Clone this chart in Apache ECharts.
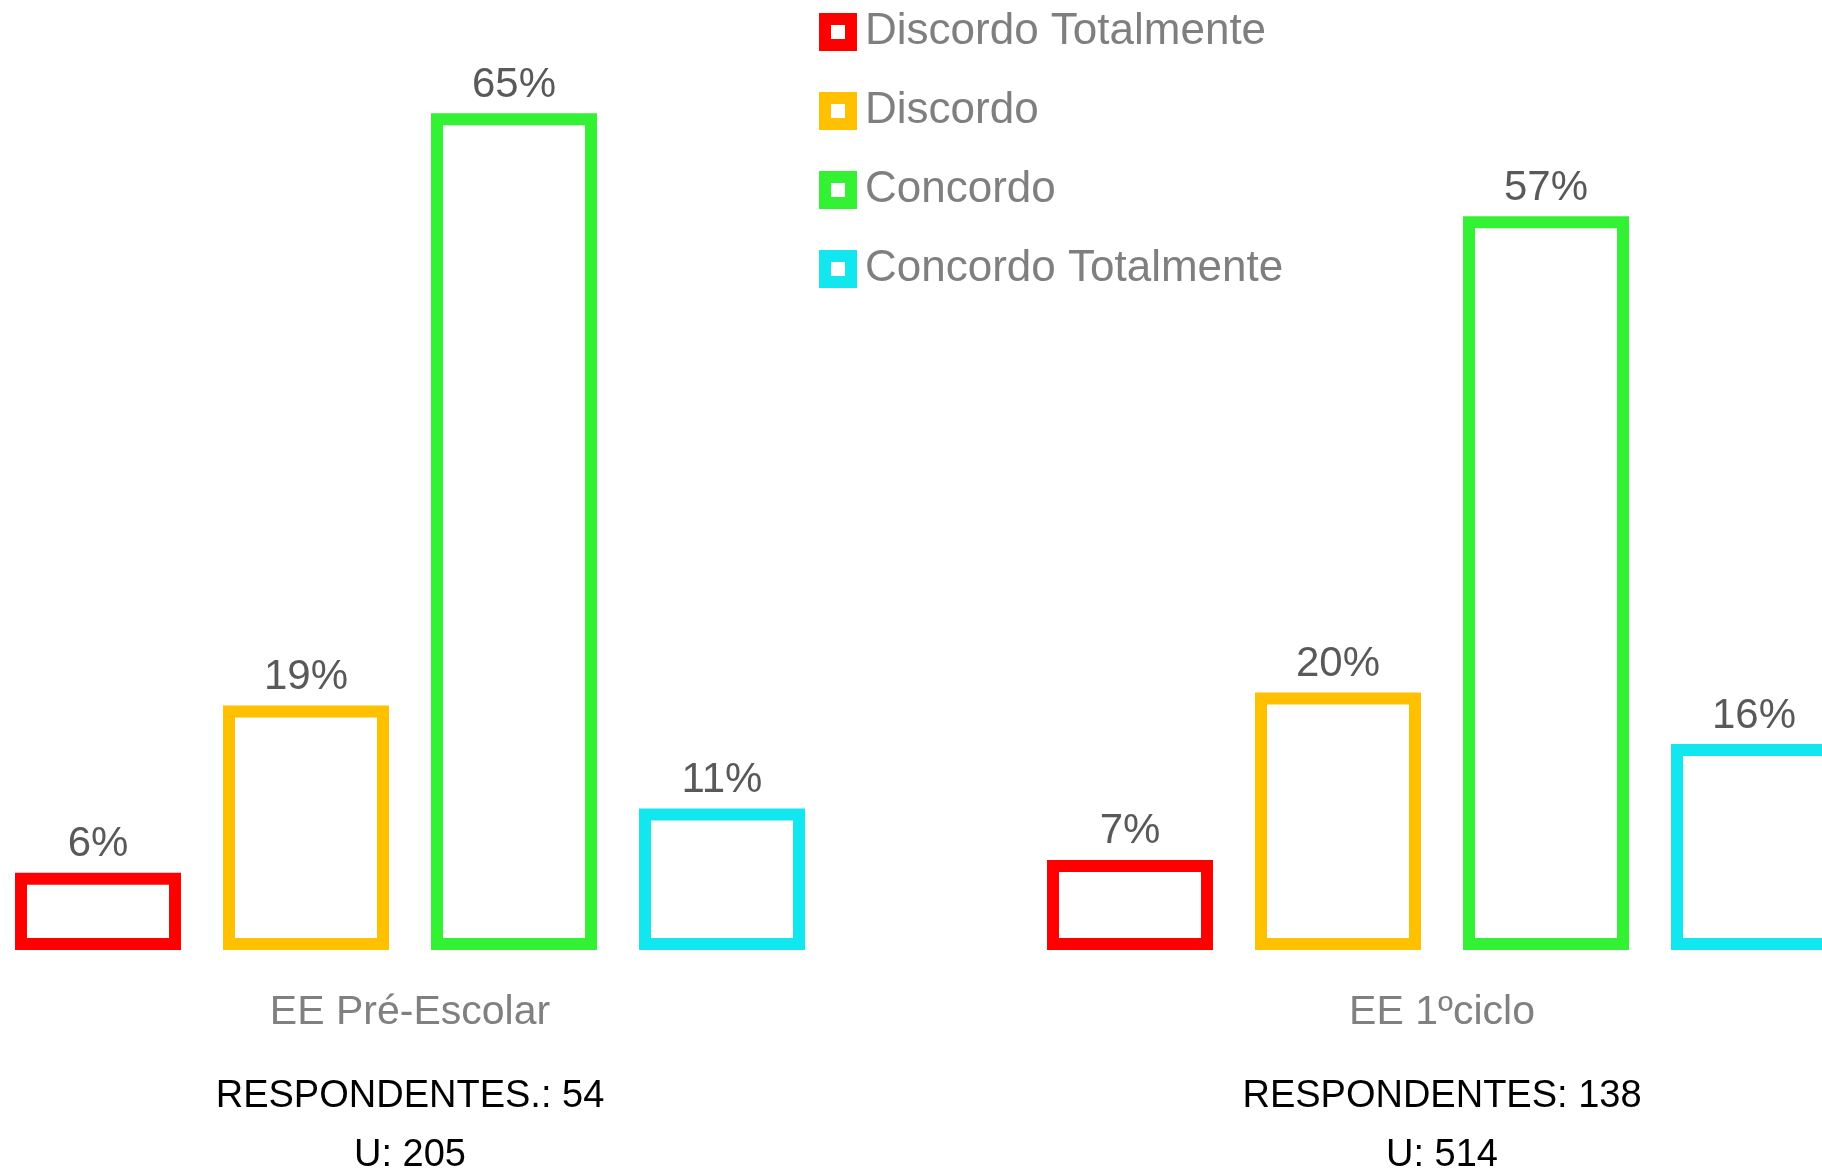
<!DOCTYPE html>
<html>
<head>
<meta charset="utf-8">
<script src="https://cdn.jsdelivr.net/npm/echarts@6/dist/echarts.min.js"></script>
<style>
html, body { margin: 0; padding: 0; background: #fff; }
#main { width: 1822px; height: 1171px; }
</style>
</head>
<body>
<div id="main"></div>
<script>
// categorias e respostas
var categories = ['EE Pré-Escolar', 'EE 1ºciclo'];
var respondentes = ['RESPONDENTES.: 54', 'RESPONDENTES: 138'];
var universo = ['U: 205', 'U: 514'];

var seriesNames = ['Discordo Totalmente', 'Discordo', 'Concordo', 'Concordo Totalmente'];
var seriesColors = ['#ff0000', '#ffc000', '#33f233', '#12e6ef'];

// percentagens por serie (uma por categoria)
var discordoTotalmente = [6, 7];
var discordo = [19, 20];
var concordo = [65, 57];
var concordoTotalmente = [11, 16];

var seriesValues = [discordoTotalmente, discordo, concordo, concordoTotalmente];

var font = "'Liberation Sans', Arial, sans-serif";

function loadChart(){
	var myChart = echarts.init(document.getElementById('main'));

	var series = [];
	for (var i = 0; i < seriesNames.length; i++) {
		series.push({
			name: seriesNames[i],
			type: 'bar',
			data: seriesValues[i],
			barWidth: 166,
			barGap: '25.3%',
			itemStyle: {
				color: '#ffffff',
				borderColor: seriesColors[i],
				borderWidth: 12
			},
			label: {
				show: true,
				position: 'top',
				distance: 7,
				formatter: '{c}%',
				color: '#595959',
				fontFamily: font,
				fontSize: 42
			}
		});
	}

	var option = {
		animation: false,
		backgroundColor: '#ffffff',
		legend: {
			orient: 'vertical',
			left: 814,
			top: 2,
			itemWidth: 26,
			itemHeight: 26,
			itemGap: 29,
			icon: 'rect',
			itemStyle: { borderWidth: 12 },
			textStyle: {
				color: '#7f7f7f',
				fontFamily: font,
				fontSize: 44,
				lineHeight: 50,
				padding: [0, 0, 0, 9]
			},
			data: seriesNames
		},
		grid: {
			left: -106,
			right: -136,
			top: 49,
			bottom: 221,
			outerBoundsMode: 'none',
			containLabel: false
		},
		xAxis: {
			type: 'category',
			data: categories,
			axisLine: { show: false },
			axisTick: { show: false },
			axisLabel: {
				margin: 9,
				formatter: function (value, idx) {
					return '{cat|' + value + '}\n{resp|' + respondentes[idx] + '}\n{resp|' + universo[idx] + '}';
				},
				rich: {
					cat: {
						color: '#808080',
						fontFamily: font,
						fontSize: 41,
						lineHeight: 108
					},
					resp: {
						color: '#000000',
						fontFamily: font,
						fontSize: 38,
						lineHeight: 59
					}
				}
			}
		},
		yAxis: {
			type: 'value',
			min: 0,
			max: 70,
			show: false,
			splitLine: { show: false }
		},
		series: series
	};

	myChart.setOption(option);
}

loadChart();
</script>
</body>
</html>
